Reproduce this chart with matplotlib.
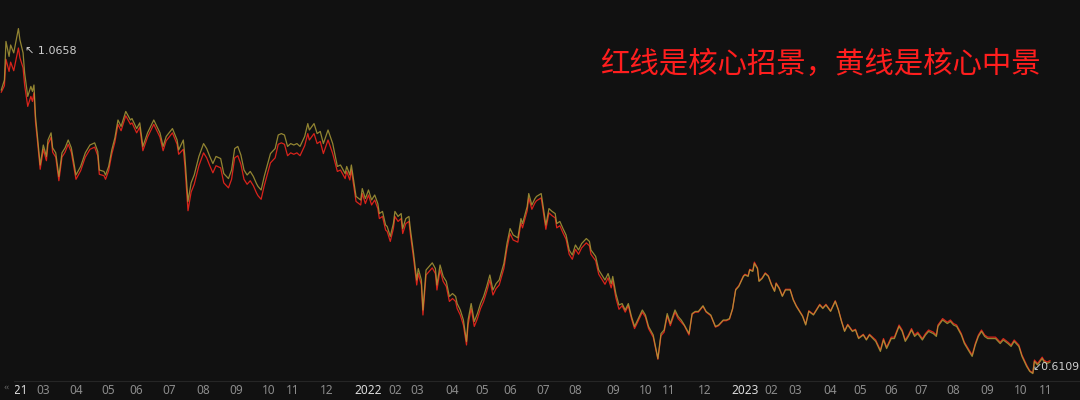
import matplotlib
matplotlib.use("Agg")
import matplotlib.pyplot as plt
from matplotlib.patches import Rectangle
from matplotlib.transforms import Bbox, TransformedBbox
import numpy as np

# ---------------- data ----------------
# trading-session index of each sampled point
sess = [7,9,10,12,13,15,18,19,21,22,
        24,26,27,28,29,30,32,34,36,37,
        39,40,42,44,46,48,50,52,55,58,
        61,64,67,69,70,73,74,76,78,80,
        82,84,87,90,91,94,96,98,101,105,
        107,109,111,113,117,120,121,124,125,127,
        129,131,134,137,139,141,143,145,148,150,
        153,155,157,159,161,163,165,167,169,171,
        172,174,176,178,180,183,185,187,189,191,
        193,195,197,199,202,204,205,208,210,212,
        214,217,220,223,225,228,229,231,232,234,
        235,238,239,241,243,245,247,249,250,252,
        254,255,257,259,260,262,264,265,267,269,
        270,272,274,275,277,278,280,282,284,286,
        287,289,291,293,295,297,299,300,302,304,
        306,307,309,311,313,315,317,319,321,323,
        325,327,330,332,334,336,339,341,342,345,
        346,348,350,351,354,355,357,359,361,363,
        364,366,368,370,372,374,376,378,380,383,
        385,386,389,391,395,397,399,400,402,404,
        406,408,410,412,414,416,419,421,423,426,
        429,431,433,435,437,440,442,444,446,449,
        451,453,455,458,460,463,466,468,471,473,
        475,477,479,481,484,485,487,488,490,491,
        493,494,496,498,500,502,504,505,507,509,
        511,514,516,518,520,522,524,526,529,531,
        533,535,537,540,543,545,547,549,551,554,
        556,558,561,563,565,569,572,574,576,579,
        581,584,586,588,590,592,594,596,599,601,
        603,606,608,609,612,615,617,619,621,624,
        626,629,631,633,635,637,639,641,644,646,
        649,651,654,656,658,661,663,666,668,670,
        671,673,676,677,679,681]

# yellow line: 核心中景
zhongjing = [1.007,1.021,1.075,1.054,1.070,1.059,1.093,1.077,1.059,1.031,
             0.998,1.012,1.005,1.014,0.970,0.947,0.902,0.930,0.914,0.937,
             0.947,0.926,0.919,0.886,0.919,0.926,0.937,0.926,0.888,0.900,
             0.919,0.930,0.933,0.921,0.895,0.893,0.888,0.900,0.923,0.940,
             0.965,0.956,0.977,0.965,0.967,0.953,0.961,0.928,0.947,0.965,
             0.956,0.947,0.928,0.942,0.953,0.937,0.923,0.937,0.914,0.851,
             0.877,0.888,0.914,0.932,0.925,0.914,0.904,0.914,0.911,0.890,
             0.883,0.895,0.925,0.928,0.916,0.895,0.888,0.893,0.886,0.876,
             0.872,0.867,0.886,0.902,0.918,0.925,0.944,0.946,0.944,0.928,
             0.932,0.930,0.932,0.928,0.942,0.960,0.951,0.960,0.946,0.949,
             0.932,0.951,0.932,0.900,0.902,0.890,0.900,0.888,0.902,0.872,
             0.858,0.853,0.869,0.855,0.867,0.853,0.860,0.848,0.834,0.837,
             0.818,0.816,0.802,0.820,0.837,0.830,0.834,0.813,0.827,0.830,
             0.811,0.778,0.741,0.757,0.741,0.699,0.755,0.760,0.765,0.757,
             0.734,0.762,0.746,0.739,0.718,0.722,0.718,0.708,0.699,0.685,
             0.655,0.685,0.708,0.683,0.694,0.708,0.718,0.732,0.748,0.727,
             0.736,0.741,0.764,0.792,0.813,0.804,0.800,0.827,0.820,0.844,
             0.862,0.846,0.855,0.858,0.862,0.848,0.818,0.841,0.837,0.834,
             0.820,0.823,0.813,0.804,0.783,0.776,0.790,0.783,0.792,0.799,
             0.795,0.783,0.774,0.755,0.741,0.750,0.736,0.746,0.722,0.706,
             0.708,0.699,0.708,0.690,0.676,0.685,0.699,0.692,0.676,0.664,
             0.631,0.666,0.671,0.694,0.680,0.699,0.690,0.685,0.678,0.666,
             0.694,0.697,0.697,0.705,0.697,0.692,0.676,0.678,0.685,0.685,
             0.687,0.701,0.727,0.732,0.746,0.748,0.746,0.755,0.753,0.764,
             0.757,0.739,0.743,0.750,0.746,0.734,0.725,0.736,0.729,0.718,
             0.727,0.727,0.713,0.704,0.697,0.690,0.678,0.697,0.692,0.699,
             0.706,0.701,0.706,0.697,0.711,0.699,0.683,0.669,0.678,0.669,
             0.671,0.659,0.664,0.657,0.664,0.655,0.641,0.657,0.645,0.659,
             0.659,0.676,0.669,0.655,0.662,0.671,0.662,0.666,0.657,0.664,
             0.669,0.666,0.662,0.676,0.685,0.680,0.683,0.678,0.676,0.664,
             0.652,0.641,0.634,0.650,0.662,0.669,0.662,0.659,0.659,0.659,
             0.652,0.657,0.652,0.648,0.655,0.648,0.634,0.620,0.613,0.610,
             0.627,0.622,0.631,0.627,0.624,0.626]

# red line: 核心招景
zhaojing = [1.004,1.013,1.050,1.033,1.046,1.034,1.0658,1.052,1.038,1.014,
            0.984,0.998,0.991,1.003,0.962,0.941,0.896,0.924,0.908,0.931,
            0.941,0.920,0.913,0.880,0.913,0.920,0.931,0.920,0.882,0.894,
            0.913,0.924,0.927,0.915,0.889,0.887,0.882,0.894,0.917,0.934,
            0.959,0.950,0.971,0.959,0.961,0.947,0.955,0.922,0.941,0.959,
            0.950,0.941,0.922,0.936,0.947,0.931,0.917,0.924,0.901,0.838,
            0.864,0.875,0.901,0.919,0.912,0.901,0.891,0.901,0.898,0.877,
            0.870,0.882,0.912,0.915,0.903,0.882,0.875,0.880,0.873,0.863,
            0.859,0.854,0.873,0.889,0.905,0.912,0.931,0.933,0.931,0.915,
            0.919,0.917,0.919,0.915,0.929,0.946,0.937,0.946,0.932,0.935,
            0.918,0.937,0.918,0.893,0.895,0.883,0.893,0.881,0.895,0.865,
            0.851,0.846,0.862,0.848,0.860,0.846,0.853,0.841,0.827,0.830,
            0.811,0.809,0.795,0.813,0.830,0.823,0.827,0.806,0.820,0.823,
            0.804,0.771,0.734,0.750,0.734,0.692,0.748,0.753,0.758,0.750,
            0.727,0.755,0.739,0.732,0.711,0.715,0.711,0.701,0.692,0.678,
            0.650,0.678,0.701,0.676,0.687,0.701,0.711,0.725,0.741,0.720,
            0.729,0.734,0.757,0.785,0.806,0.797,0.794,0.821,0.814,0.838,
            0.856,0.840,0.849,0.852,0.856,0.842,0.812,0.835,0.831,0.828,
            0.814,0.817,0.807,0.798,0.777,0.770,0.784,0.777,0.786,0.793,
            0.789,0.777,0.768,0.749,0.735,0.744,0.730,0.740,0.716,0.700,
            0.705,0.696,0.705,0.687,0.673,0.682,0.696,0.689,0.673,0.661,
            0.630,0.663,0.668,0.691,0.677,0.696,0.687,0.682,0.677,0.664,
            0.693,0.696,0.696,0.704,0.696,0.691,0.675,0.677,0.684,0.684,
            0.686,0.700,0.728,0.733,0.747,0.749,0.747,0.756,0.754,0.766,
            0.758,0.740,0.744,0.751,0.747,0.735,0.726,0.737,0.730,0.719,
            0.728,0.728,0.714,0.705,0.698,0.691,0.679,0.698,0.693,0.700,
            0.707,0.702,0.707,0.698,0.712,0.700,0.684,0.670,0.679,0.670,
            0.672,0.660,0.665,0.658,0.665,0.657,0.643,0.659,0.647,0.661,
            0.661,0.678,0.671,0.657,0.664,0.673,0.664,0.668,0.659,0.666,
            0.671,0.668,0.664,0.678,0.687,0.682,0.685,0.680,0.678,0.666,
            0.654,0.643,0.636,0.652,0.664,0.671,0.664,0.661,0.661,0.661,
            0.654,0.659,0.654,0.650,0.657,0.650,0.636,0.622,0.614,0.6109,
            0.629,0.624,0.633,0.629,0.626,0.628]

# month ticks (session index of the label) and their texts
tick_sess = [15, 34, 55, 76, 94, 115, 137, 158, 179, 194, 216,
             243, 260, 274, 297, 316, 334, 355, 376, 400, 421, 436, 459,
             485, 502, 517, 540, 559, 579, 598, 619, 641, 662, 678]
tick_text = ["2021", "03", "04", "05", "06", "07", "08", "09", "10", "11", "12",
             "2022", "02", "03", "04", "05", "06", "07", "08", "09", "10", "11", "12",
             "2023", "02", "03", "04", "05", "06", "07", "08", "09", "10", "11"]

title_text = "红线是核心招景，黄线是核心中景"

# ---------------- drawing ----------------
BG = "#111111"
RED = "#d9231b"
YEL = "#b3a23a"

fig = plt.figure(figsize=(10.8, 4.0), dpi=100, facecolor=BG)
ax = fig.add_axes([0.0, 19 / 400, 1.0, 381 / 400])
ax.set_facecolor(BG)

ax.plot(sess, zhaojing, color=RED, lw=0.9, zorder=3)
ax.plot(sess, zhongjing, color=YEL, lw=0.9, alpha=0.8, zorder=4)

ax.set_xlim(6.17, 700.3)
ax.set_ylim(0.5996, 1.133)

for s in ["top", "left", "right"]:
    ax.spines[s].set_visible(False)
ax.spines["bottom"].set_color("#262626")
ax.spines["bottom"].set_linewidth(0.8)
ax.set_yticks([])
ax.set_xticks(tick_sess)
ax.set_xticklabels(tick_text, fontsize=8.5, family="Noto Sans")
ax.tick_params(axis="x", length=0, pad=2.5, colors="#8c8c8c")
for lab in ax.get_xticklabels():
    if len(lab.get_text()) == 4:
        lab.set_color("#dcdcdc")
        lab.set_fontweight("bold")

# the first year label is partly hidden behind the scroll marker
first = ax.get_xticklabels()[0]
first.set_clip_box(TransformedBbox(Bbox([[15 / 1080, 0], [1, 1]]), fig.transFigure))
first.set_clip_on(True)
fig.patches.append(Rectangle((0, 0), 14 / 1080, 19 / 400, transform=fig.transFigure,
                             facecolor=BG, edgecolor="none", zorder=10))
fig.text(6.5 / 1080, 1 - 388 / 400, "‹‹", color="#777777", fontsize=5.5,
         ha="center", va="center", family="DejaVu Sans", zorder=11)

# max / min annotations of the red line
imax = int(np.argmax(zhaojing))
imin = int(np.argmin(zhaojing))
ax.annotate("↖ " + f"{zhaojing[imax]:.4f}", xy=(sess[imax], zhaojing[imax]),
            xytext=(5.0, -2.5), textcoords="offset points", ha="left", va="center",
            fontsize=8, color="#cfcfcf", family="DejaVu Sans", zorder=6)
ax.annotate("↙" + f"{zhaojing[imin]:.4f}", xy=(sess[imin], zhaojing[imin]),
            xytext=(-0.5, 4.3), textcoords="offset points", ha="left", va="center",
            fontsize=7.8, color="#cfcfcf", family="DejaVu Sans", zorder=6)

fig.text(600 / 1080, 1 - 64 / 400, title_text, color="#ff1e1e", fontsize=21.2,
         family=["Noto Sans CJK SC", "DejaVu Sans"], ha="left", va="center")

fig.savefig("out.png", dpi=100, facecolor=BG)
